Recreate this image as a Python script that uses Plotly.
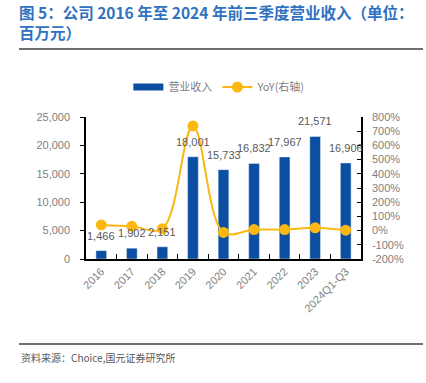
import plotly.graph_objects as go

categories = ["2016", "2017", "2018", "2019", "2020", "2021", "2022", "2023", "2024Q1-Q3"]
revenue = [1466, 1902, 2151, 18001, 15733, 16832, 17967, 21571, 16906]
yoy = [40, 30, 13, 737, -13, 7, 7, 20, 3]
rev_labels = [f"{v:,}" for v in revenue]
left_ticks = [0, 5000, 10000, 15000, 20000, 25000]
right_ticks = [-200, -100, 0, 100, 200, 300, 400, 500, 600, 700, 800]
right_tick_text = [f"{v}%" for v in right_ticks]

BAR = "#0b4ea2"
GOLD = "#fbb813"
GRAY = "#7f7f7f"
FONT = "Liberation Sans, Arial, sans-serif"
CJK = "Noto Sans CJK SC, sans-serif"

fig = go.Figure()
fig.add_trace(go.Bar(
    x=categories, y=revenue, name="营业收入", marker_color=BAR, width=0.35,
    showlegend=False,
))
# legend entry for bars (wide rectangle symbol)
fig.add_trace(go.Scatter(
    x=[categories[0]], y=[None], name="营业收入", mode="lines",
    line=dict(color=BAR, width=7),
))
fig.add_trace(go.Scatter(
    x=categories, y=yoy, name="YoY(右轴)", yaxis="y2", mode="lines+markers",
    line=dict(color=GOLD, width=2, shape="spline", smoothing=1.0),
    marker=dict(size=11, color=GOLD), cliponaxis=False,
))

for i, (v, t) in enumerate(zip(revenue, rev_labels)):
    fig.add_annotation(x=i, y=v, text=t, xref="x", yref="y", showarrow=False,
                       yanchor="bottom", yshift=7,
                       font=dict(size=11, color="#595959", family=FONT))

# plot area: x 86..361, y 117..259 (px)
fig.update_layout(
    width=426, height=383,
    margin=dict(l=86, r=65, t=117, b=124, autoexpand=False),
    paper_bgcolor="white", plot_bgcolor="white",
    showlegend=True,
    legend=dict(orientation="h", x=0.485, xanchor="center", y=(259 - 87) / 142, yanchor="middle",
                font=dict(size=11, color=GRAY, family=CJK), itemwidth=30,
                tracegroupgap=0),
    xaxis=dict(type="category", categoryorder="array", categoryarray=categories,
               range=[-0.5, len(categories) - 0.5],
               showline=True, linecolor="black", linewidth=1.5,
               ticks="inside", ticklen=5, tickcolor="black", tickson="boundaries",
               tickangle=-45, tickfont=dict(size=11, color=GRAY, family=FONT),
               showgrid=False),
    yaxis=dict(range=[0, 25000], tickvals=left_ticks, tickformat=",",
               showline=True, linecolor="black", linewidth=1.5,
               ticks="outside", ticklen=4, tickcolor="black", ticklabelstandoff=8,
               tickfont=dict(size=11, color=GRAY, family=FONT), showgrid=False,
               zeroline=False),
    yaxis2=dict(range=[-200, 800], tickvals=right_ticks, ticktext=right_tick_text,
                overlaying="y", side="right",
                showline=True, linecolor="black", linewidth=1.5,
                ticks="inside", ticklen=4, tickcolor="black", ticklabelstandoff=7,
                tickfont=dict(size=11, color=GRAY, family=FONT), showgrid=False,
                zeroline=False),
)

fig.add_annotation(text="<b>图 5：公司 2016 年至 2024 年前三季度营业收入（单位：<br>百万元）</b>",
                   xref="paper", yref="paper", x=(17 - 86) / 275, y=(259 + 1) / 142,
                   xanchor="left", yanchor="top", align="left", showarrow=False,
                   font=dict(size=15.5, color="#2f72bf", family=CJK))
fig.add_annotation(text="资料来源：Choice,国元证券研究所",
                   xref="paper", yref="paper", x=(19 - 86) / 275, y=(259 - 357) / 142,
                   xanchor="left", yanchor="middle", align="left", showarrow=False,
                   font=dict(size=10, color="#595959", family=CJK))
fig.add_shape(type="line", xref="paper", yref="paper",
              x0=(19 - 86) / 275, x1=(423 - 86) / 275,
              y0=(259 - 49) / 142, y1=(259 - 49) / 142,
              line=dict(color="#404040", width=1.5))
fig.add_shape(type="line", xref="paper", yref="paper",
              x0=(19 - 86) / 275, x1=(423 - 86) / 275,
              y0=(259 - 344) / 142, y1=(259 - 344) / 142,
              line=dict(color="#404040", width=1.5))

fig.write_html("out.html", config={"displayModeBar": False},
               post_script="document.body.style.margin='0px';document.body.style.overflow='hidden';")
